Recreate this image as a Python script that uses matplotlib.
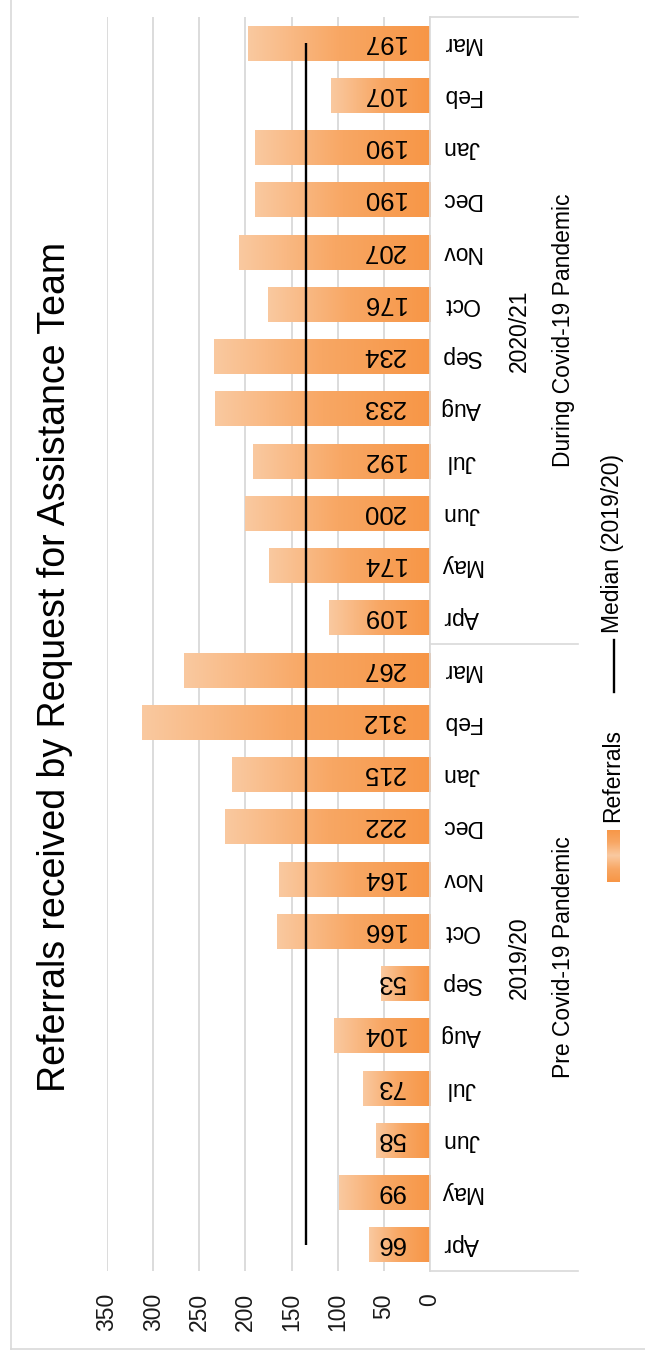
import numpy as np
import matplotlib
matplotlib.use('Agg')
import matplotlib.pyplot as plt
import matplotlib.transforms as mtransforms
from matplotlib.colors import LinearSegmentedColormap
from matplotlib.lines import Line2D

months = ['Apr', 'May', 'Jun', 'Jul', 'Aug', 'Sep', 'Oct', 'Nov', 'Dec', 'Jan', 'Feb', 'Mar']
referrals_1920 = [66, 99, 58, 73, 104, 53, 166, 164, 222, 215, 312, 267]
referrals_2021 = [109, 174, 200, 192, 233, 234, 176, 207, 190, 190, 107, 197]
year_labels = ['2019/20', '2020/21']
period_labels = ['Pre Covid-19 Pandemic', 'During Covid-19 Pandemic']
x_ticks = [0, 50, 100, 150, 200, 250, 300, 350]
title = 'Referrals received by Request for Assistance Team'
legend_labels = ['Referrals', 'Median (2019/20)']

plt.rcParams['font.family'] = ['Liberation Sans', 'DejaVu Sans']

W, H = 645, 1362
fig = plt.figure(figsize=(W / 100, H / 100), dpi=100)
fig.patch.set_facecolor('white')

# plot area in pixels
PL, PR, PT, PB = 107, 430, 17, 1271
ax = fig.add_axes([PL / W, 1 - PB / H, (PR - PL) / W, (PB - PT) / H])

def ax_x(px):
    return (px - PL) / (PR - PL)

values = referrals_1920 + referrals_2021
cats = months + months
n = len(values)
ypos = np.arange(n)

dark = '#F79646'
light = '#FAC9A0'
cmap = LinearSegmentedColormap.from_list('grad', [dark, '#F8A764', light])
grad = np.linspace(0, 1, 256).reshape(1, -1)

bars = ax.barh(ypos, values, height=0.67, color='none', edgecolor='none', zorder=2)
for b in bars:
    x0, y0, w, h = b.get_x(), b.get_y(), b.get_width(), b.get_height()
    im = ax.imshow(grad, extent=[x0, x0 + w, y0, y0 + h], aspect='auto', cmap=cmap,
                   interpolation='bilinear', zorder=2)
    im.set_clip_path(b)

median_val = float(np.median(referrals_1920))
ax.plot([median_val, median_val], [0, n - 1], color='black', lw=1.7, zorder=4,
        solid_capstyle='butt')

ax.set_xlim(350, 0)
ax.set_ylim(-0.5, n - 0.5)
ax.set_aspect('auto')

ax.set_xticks(x_ticks)
ax.set_xticklabels([str(t) for t in x_ticks], rotation=90, fontsize=16.5, color='#1a1a1a')
ax.tick_params(axis='x', length=0, pad=16)
ax.set_yticks([])
ax.xaxis.grid(True, color='#D9D9D9', lw=1.3)
ax.set_axisbelow(True)
for s in ['top', 'left', 'bottom']:
    ax.spines[s].set_visible(False)
ax.spines['right'].set_color('#D9D9D9')
ax.spines['right'].set_linewidth(1.2)

# data labels (rotated 180)
for i, v in enumerate(values):
    ax.annotate(str(v), xy=(0, i), xytext=(-18, 1), textcoords='offset points',
                rotation=180, ha='right', va='center', fontsize=18.5, color='black', zorder=5)

blend = mtransforms.blended_transform_factory(ax.transAxes, ax.transData)
# month labels
for i, c in enumerate(cats):
    ax.text(ax_x(461), i, c, rotation=180, ha='center', va='center', fontsize=16.5,
            color='black', transform=blend, clip_on=False)

# group labels
for g in range(2):
    yc = g * 12 + 5.5
    ax.text(ax_x(519), yc, year_labels[g], rotation=90, ha='center', va='center',
            fontsize=16.5, transform=blend)
    ax.text(ax_x(563), yc, period_labels[g], rotation=90, ha='center', va='center',
            fontsize=16.5, transform=blend)

# multi-level axis separators
for yb in [-0.5, 11.5, n - 0.5]:
    ax.plot([1, ax_x(578)], [yb, yb], color='#D9D9D9', lw=1.2, transform=blend,
            clip_on=False, zorder=1)

# title
fig.text(55 / W, 1 - 667 / H, title, rotation=90, ha='center', va='center',
         fontsize=27, color='black')

# legend
lax = fig.add_axes([607 / W, 1 - 882 / H, 13 / W, 52 / H])
lg = np.concatenate([np.linspace(0, 1, 64), np.linspace(1, 0, 64)]).reshape(-1, 1)
lax.imshow(lg, aspect='auto', cmap=cmap, interpolation='bilinear')
lax.axis('off')
fig.text(613 / W, 1 - 822 / H, legend_labels[0], rotation=90, ha='center', va='bottom',
         fontsize=16.5)
fig.add_artist(Line2D([613.5 / W, 613.5 / W], [1 - 692 / H, 1 - 640 / H], color='black',
                      lw=1.7, transform=fig.transFigure))
fig.text(613 / W, 1 - 633 / H, legend_labels[1], rotation=90, ha='center', va='bottom',
         fontsize=16.5)

# outer chart border
fig.add_artist(Line2D([11 / W, 11 / W], [1, 1 - 1349 / H], color='#D9D9D9', lw=1.2,
                      transform=fig.transFigure))
fig.add_artist(Line2D([11 / W, 1], [1 - 1349 / H, 1 - 1349 / H], color='#D9D9D9', lw=1.2,
                      transform=fig.transFigure))

fig.savefig('out.png', dpi=100)
